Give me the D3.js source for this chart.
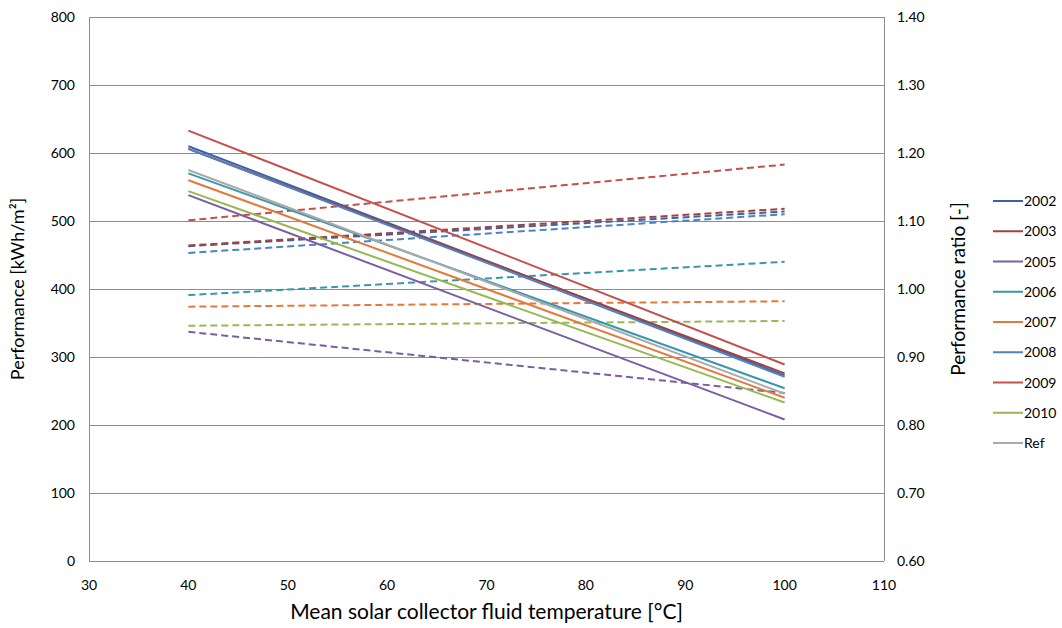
<!DOCTYPE html>
<html>
<head>
<meta charset="utf-8">
<script src="https://cdn.jsdelivr.net/npm/d3@7"></script>
<style>
  body { margin: 0; background: #fff; }
  text { font-family: Lato, "Open Sans", sans-serif; fill: #000; }
</style>
</head>
<body>
<div id="chart"></div>
<script>
// Series names and colours
const years = ["2002", "2003", "2005", "2006", "2007", "2008", "2009", "2010", "Ref"];
const colors = ["#3a64a6", "#a5403d", "#7b5ea0", "#3a96ad", "#e3793a", "#4f82c2", "#c4504c", "#96b954", "#a9a9a9"];

// Temperatures [°C] where the values are read
const temps = [40, 100];

// Performance [kWh/m²] at 40 and 100 °C (solid lines, left axis)
const perf2002 = [610, 273];
const perf2003 = [606, 276];
const perf2005 = [538, 208];
const perf2006 = [570, 254];
const perf2007 = [560, 240];
const perf2008 = [606, 271];
const perf2009 = [633, 289];
const perf2010 = [544, 233];
const perfRef  = [575, 246];

// Performance ratio [-] at 40 and 100 °C (dashed lines, right axis)
const ratio2002 = [1.063, 1.114];
const ratio2003 = [1.064, 1.118];
const ratio2005 = [0.937, 0.847];
const ratio2006 = [0.991, 1.040];
const ratio2007 = [0.974, 0.982];
const ratio2008 = [1.053, 1.110];
const ratio2009 = [1.101, 1.183];
const ratio2010 = [0.946, 0.953];

// Tick labels
const xTicks = [30, 40, 50, 60, 70, 80, 90, 100, 110];
const yTicks = [0, 100, 200, 300, 400, 500, 600, 700, 800];
const y2Ticks = [0.60, 0.70, 0.80, 0.90, 1.00, 1.10, 1.20, 1.30, 1.40];

const perfSeries = [perf2002, perf2003, perf2005, perf2006, perf2007, perf2008, perf2009, perf2010, perfRef];
const ratioSeries = [ratio2002, ratio2003, ratio2005, ratio2006, ratio2007, ratio2008, ratio2009, ratio2010];

const width = 1062, height = 628;
const margin = { left: 89, right: 178, top: 17, bottom: 67 };

const svg = d3.select("#chart").append("svg")
  .attr("width", width)
  .attr("height", height);

const x = d3.scaleLinear().domain([30, 110]).range([margin.left, width - margin.right]);
const y = d3.scaleLinear().domain([0, 800]).range([height - margin.bottom, margin.top]);
const y2 = d3.scaleLinear().domain([0.6, 1.4]).range([height - margin.bottom, margin.top]);

const gridColor = "#8e8e8e";

// Horizontal gridlines
svg.append("g")
  .selectAll("line")
  .data(yTicks)
  .enter().append("line")
  .attr("x1", x(30)).attr("x2", x(110))
  .attr("y1", d => y(d) + 0.5).attr("y2", d => y(d) + 0.5)
  .attr("stroke", gridColor)
  .attr("stroke-width", 1);

// Left, right axes
[x(30), x(110)].forEach(px => {
  svg.append("line")
    .attr("x1", px + 0.5).attr("x2", px + 0.5)
    .attr("y1", y(800)).attr("y2", y(0))
    .attr("stroke", gridColor);
});

// Tick labels
svg.append("g").selectAll("text")
  .data(yTicks).enter().append("text")
  .attr("x", x(30) - 14).attr("y", d => y(d) + 5)
  .attr("text-anchor", "end")
  .attr("font-size", 14)
  .text(d => d);

svg.append("g").selectAll("text")
  .data(y2Ticks).enter().append("text")
  .attr("x", x(110) + 13).attr("y", d => y2(d) + 5)
  .attr("font-size", 14)
  .text(d => d.toFixed(2));

svg.append("g").selectAll("text")
  .data(xTicks).enter().append("text")
  .attr("x", d => x(d)).attr("y", y(0) + 29)
  .attr("text-anchor", "middle")
  .attr("font-size", 14)
  .text(d => d);

// Axis titles
svg.append("text")
  .attr("transform", `translate(24,${(y(0) + y(800)) / 2}) rotate(-90)`)
  .attr("text-anchor", "middle")
  .attr("font-size", 18)
  .text("Performance [kWh/m²]");

svg.append("text")
  .attr("transform", `translate(965,${(y(0) + y(800)) / 2}) rotate(-90)`)
  .attr("text-anchor", "middle")
  .attr("font-size", 19)
  .text("Performance ratio [-]");

svg.append("text")
  .attr("x", (x(30) + x(110)) / 2).attr("y", 619)
  .attr("text-anchor", "middle")
  .attr("font-size", 21)
  .text("Mean solar collector fluid temperature [°C]");

// Dashed ratio lines (right axis)
const ratioLine = d3.line().x((d, i) => x(temps[i])).y(d => y2(d));
ratioSeries.forEach((s, i) => {
  svg.append("path")
    .attr("d", ratioLine(s))
    .attr("fill", "none")
    .attr("stroke", colors[i])
    .attr("stroke-width", 2)
    .attr("stroke-dasharray", "7,4");
});

// Solid performance lines (left axis)
const perfLine = d3.line().x((d, i) => x(temps[i])).y(d => y(d));
perfSeries.forEach((s, i) => {
  svg.append("path")
    .attr("d", perfLine(s))
    .attr("fill", "none")
    .attr("stroke", colors[i])
    .attr("stroke-width", 2);
});

// Legend
const legend = svg.append("g").selectAll("g")
  .data(years).enter().append("g")
  .attr("transform", (d, i) => `translate(993,${201 + i * 30.25})`);

legend.append("line")
  .attr("x1", 0).attr("x2", 30)
  .attr("stroke", (d, i) => colors[i])
  .attr("stroke-width", 2);

legend.append("text")
  .attr("x", 31).attr("y", 5)
  .attr("font-size", 14)
  .text(d => d);
</script>
</body>
</html>
